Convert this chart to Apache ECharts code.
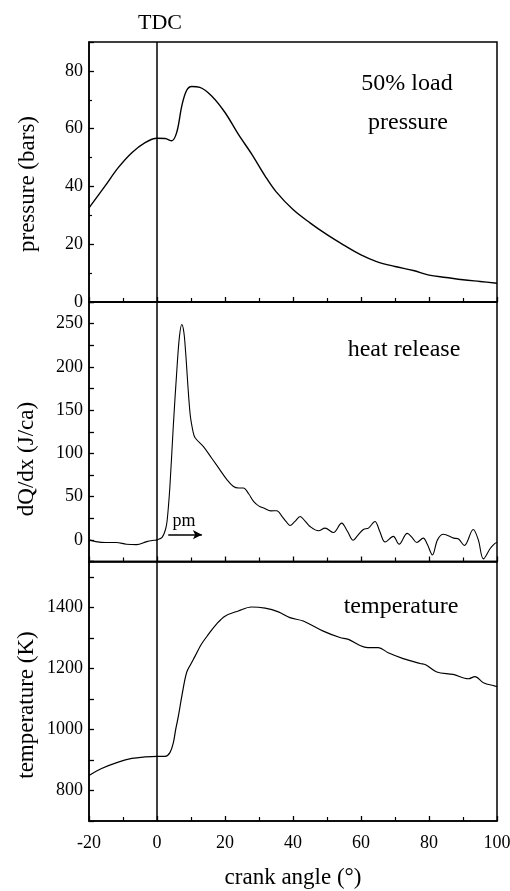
<!DOCTYPE html>
<html>
<head>
<meta charset="utf-8">
<script src="https://cdn.jsdelivr.net/npm/echarts@6/dist/echarts.min.js"></script>
<style>
html,body{margin:0;padding:0;background:#fff;}
#chart{width:510px;height:891px;}
</style>
</head>
<body>
<div id="chart"></div>
<script>
// ---- data ----
const pressureAngle = [-20, -15.3, -11.4, -7.4, -3.5, 0, 2.4, 4.3, 5.8, 7.3, 8.7, 10.2, 12.6, 16, 20, 23.9, 27.9, 31.8, 35, 40, 45, 50, 54.8, 60, 64.6, 70, 75.4, 80, 85, 90, 95, 100];
const pressureBar   = [32.6, 40.1, 46.5, 51.7, 55.2, 56.7, 56.6, 55.8, 58.7, 67.9, 73.2, 74.6, 74.3, 71.4, 65.6, 58.1, 51.1, 43.6, 38.2, 32, 27.4, 23.3, 19.8, 16.3, 14, 12.3, 10.9, 9.3, 8.5, 7.7, 7.1, 6.5];

const heatAngle = [-20, -18, -15, -12, -9, -6, -3, -1, 0, 1.5, 2.5, 3, 3.8, 4.8, 5.8, 6.6, 7.3, 7.9, 8.4, 9.7, 10.6, 11.2, 13.6, 16, 18.5, 20.5, 22.4, 24, 25.4, 27, 28.4, 30, 31.4, 33.5, 35.2, 36.8, 38, 39.1, 40.5, 42.1, 43.5, 45, 47.5, 49.4, 51.9, 54.3, 56, 57.7, 59, 60.7, 62.2, 64.1, 65.5, 67.1, 69.5, 71.2, 73.6, 75, 76.4, 78.3, 79.5, 81, 82.5, 84.2, 87.3, 88.6, 90.4, 93, 94.5, 96, 98, 99.4, 100];
const heatRelease = [0, -2, -3, -3, -5, -5.5, -2, -0.5, 0, 3, 12, 23, 62, 132, 194, 235, 249, 240, 218, 147, 125, 118, 108, 95, 81, 70, 62, 60, 60, 53, 44.6, 39, 36.8, 33.5, 33.7, 27, 21, 16.7, 21, 27, 22, 15.5, 10.5, 13.6, 8.5, 19.4, 10, -0.5, 5, 12, 13.6, 21.3, 10, -2.5, 4, -5, 7.5, 3, -3, 2, -5, -17.4, 0, 6.5, 2, 1.2, -6.5, 12, 0, -22, -10, -4, -3];

const tempAngle = [-20, -16.3, -11.4, -7.4, -3.5, 0, 2.4, 3.8, 4.8, 5.5, 6.3, 7.3, 8.7, 10, 11.2, 13, 15.1, 17.5, 20, 23.9, 27.8, 31.8, 35.7, 39.1, 43, 48.9, 53.8, 56.3, 59.7, 62, 65.1, 68, 72.4, 77.4, 79, 82.3, 87.1, 91.6, 93.5, 96, 99.4, 100];
const tempK = [849, 872, 893, 905, 910, 912, 912, 924, 956, 1000, 1044, 1109, 1186, 1215, 1240, 1278, 1311, 1345, 1371, 1388, 1401, 1397, 1385, 1366, 1355, 1322, 1301, 1295, 1275, 1268, 1268, 1251, 1232, 1216, 1212, 1188, 1180, 1166, 1173, 1153, 1142, 1140];

const angleTickLabels = [-20, 0, 20, 40, 60, 80, 100];
const pressureTickLabels = [0, 20, 40, 60, 80];
const heatTickLabels = [0, 50, 100, 150, 200, 250];
const tempTickLabels = [800, 1000, 1200, 1400];
const tdcAngle = 0;
const pmArrow = [3.3, 13.2, 6]; // from angle, to angle, level (J/ca)

// ---- chart ----
const zip = (a, b) => a.map((x, i) => [x, b[i]]);
const FONT = '"Liberation Serif", "DejaVu Serif", serif';
const black = '#000';

function xAx(gridIndex, showLabels) {
  return {
    type: 'value', gridIndex, min: -20, max: 100, interval: 20,
    axisLine: { show: true, onZero: false, lineStyle: { color: black, width: 1.5 } },
    axisTick: { show: true, inside: true, length: 5, lineStyle: { color: black, width: 1.3 } },
    minorTick: { show: true, splitNumber: 2, length: 4, lineStyle: { color: black, width: 1.2 } },
    splitLine: { show: false },
    axisLabel: {
      show: showLabels, color: black, fontFamily: FONT, fontSize: 18, margin: 13,
      formatter: v => angleTickLabels.includes(v) ? String(v) : ''
    },
    name: showLabels ? 'crank angle (°)' : '',
    nameLocation: 'middle', nameGap: 45,
    nameTextStyle: { color: black, fontFamily: FONT, fontSize: 23 }
  };
}
function yAx(gridIndex, min, max, interval, labels, minor) {
  return {
    type: 'value', gridIndex, min, max, interval,
    axisLine: { show: true, onZero: false, lineStyle: { color: black, width: 1.5 } },
    axisTick: { show: true, inside: true, length: 5, lineStyle: { color: black, width: 1.3 } },
    minorTick: { show: minor, splitNumber: 2, length: 3, lineStyle: { color: black, width: 1.2 } },
    splitLine: { show: false },
    axisLabel: {
      color: black, fontFamily: FONT, fontSize: 18, margin: 6,
      formatter: v => labels.includes(v) ? String(v) : ''
    }
  };
}
const tdcLine = {
  silent: true, symbol: 'none', animation: false,
  lineStyle: { color: black, width: 1.5, type: 'solid' },
  label: { show: false },
  data: [{ xAxis: tdcAngle }]
};
function ser(i, data, width) {
  return {
    type: 'line', xAxisIndex: i, yAxisIndex: i, data,
    showSymbol: false, smooth: 0.35,
    lineStyle: { color: black, width },
    markLine: JSON.parse(JSON.stringify(tdcLine))
  };
}
function txt(x, y, text, size, rot) {
  return { type: 'text', x, y, rotation: rot || 0,
    style: { text, font: size + 'px ' + FONT, fill: black, align: 'center', verticalAlign: 'middle' } };
}

const chart = echarts.init(document.getElementById('chart'), null, { renderer: 'canvas' });
const heatSeries = ser(1, zip(heatAngle, heatRelease), 1.1);
heatSeries.markLine.data.push([
  { coord: [pmArrow[0], pmArrow[2]], symbol: 'none' },
  { coord: [pmArrow[1], pmArrow[2]], symbol: 'arrow', symbolSize: [7, 9] }
]);
const gridBase = { left: 89, right: 13, show: true, borderColor: black, borderWidth: 1.5, outerBoundsMode: 'none', containLabel: false };
chart.setOption({
  animation: false,
  backgroundColor: '#fff',
  grid: [
    Object.assign({ top: 42, height: 260 }, gridBase),
    Object.assign({ top: 302, height: 259.5 }, gridBase),
    Object.assign({ top: 561.5, height: 259.5 }, gridBase)
  ],
  xAxis: [xAx(0, false), xAx(1, false), xAx(2, true)],
  yAxis: [
    yAx(0, 0, 90, 20, pressureTickLabels, true),
    yAx(1, -25, 275, 25, heatTickLabels, false),
    yAx(2, 700, 1550, 100, tempTickLabels, false)
  ],
  series: [
    ser(0, zip(pressureAngle, pressureBar), 1.4),
    heatSeries,
    ser(2, zip(tempAngle, tempK), 1.2)
  ],
  graphic: [
    txt(160, 23, 'TDC', 22),
    txt(407, 84, '50% load', 24),
    txt(408, 123, 'pressure', 24),
    txt(404, 350, 'heat release', 24),
    txt(401, 607, 'temperature', 24),
    txt(184, 521, 'pm', 18),
    txt(28, 184, 'pressure (bars)', 23, Math.PI / 2),
    txt(27, 459, 'dQ/dx (J/ca)', 23, Math.PI / 2),
    txt(27, 705, 'temperature (K)', 23, Math.PI / 2)
  ]
});
</script>
</body>
</html>
